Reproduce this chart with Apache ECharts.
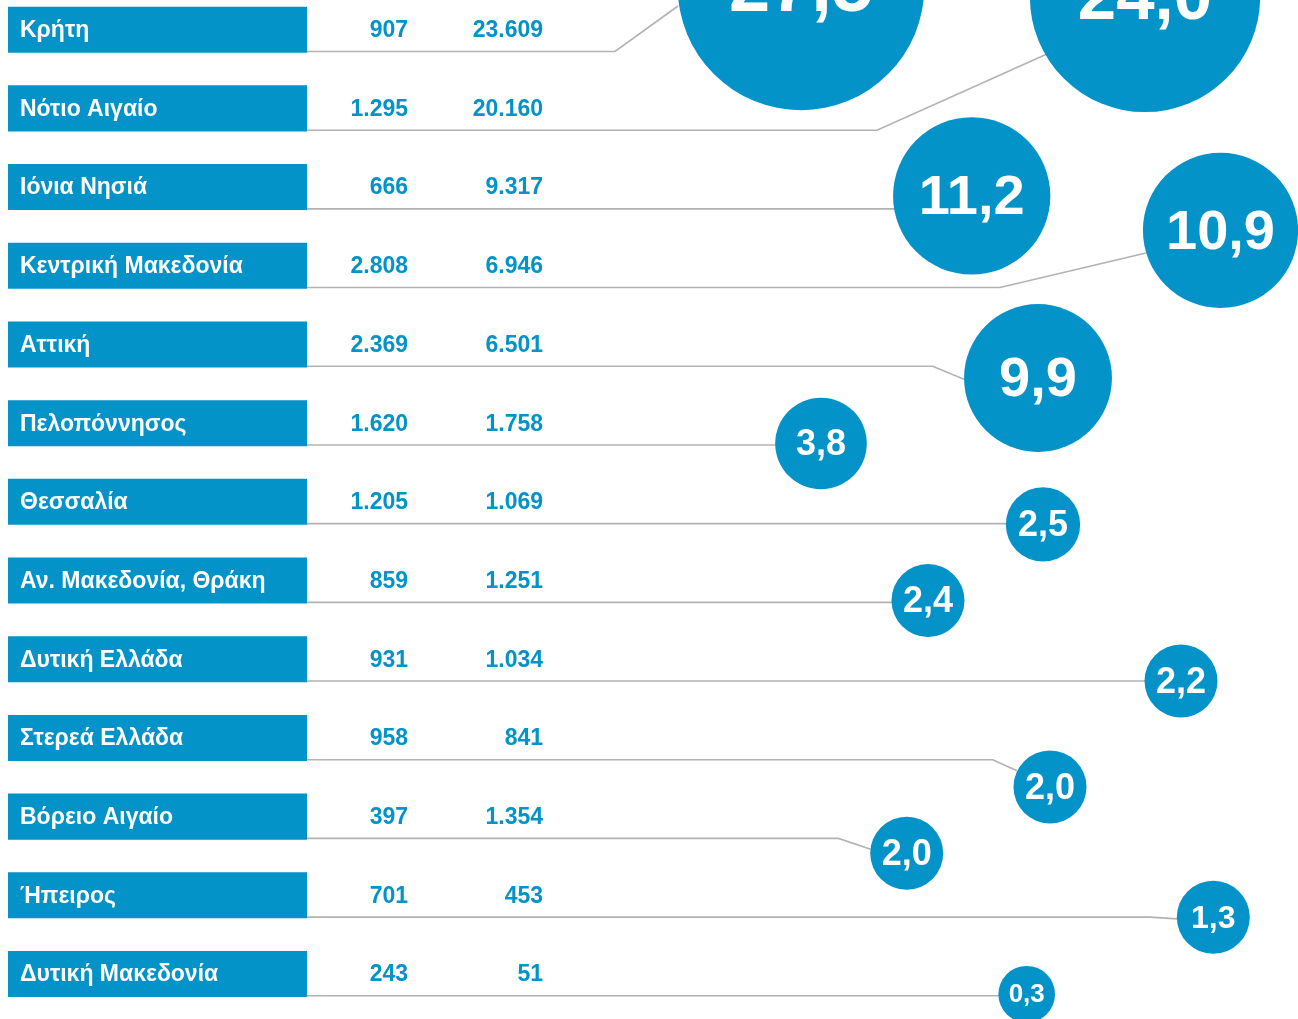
<!DOCTYPE html>
<html>
<head>
<meta charset="utf-8">
<script src="https://cdn.jsdelivr.net/npm/echarts@6/dist/echarts.min.js"></script>
<style>
html,body{margin:0;padding:0;background:#fff;}
#chart{width:1298px;height:1019px;}
</style>
</head>
<body>
<div id="chart"></div>
<script>
// ---- data ----
const regions = ['Κρήτη','Νότιο Αιγαίο','Ιόνια Νησιά','Κεντρική Μακεδονία','Αττική','Πελοπόννησος','Θεσσαλία','Αν. Μακεδονία, Θράκη','Δυτική Ελλάδα','Στερεά Ελλάδα','Βόρειο Αιγαίο','Ήπειρος','Δυτική Μακεδονία'];
const col1 = [907, 1295, 666, 2808, 2369, 1620, 1205, 859, 931, 958, 397, 701, 243];
const col2 = [23609, 20160, 9317, 6946, 6501, 1758, 1069, 1251, 1034, 841, 1354, 453, 51];
const shares = [27.5, 24.0, 11.2, 10.9, 9.9, 3.8, 2.5, 2.4, 2.2, 2.0, 2.0, 1.3, 0.3];

// ---- layout (placement of the bubbles, not data) ----
const bubbleX  = [801, 1145, 971.7, 1220.5, 1038, 821, 1043, 928, 1181, 1050, 906.7, 1213.3, 1026.7];
const bubbleDy = [-0.543, -1.416, 0.113, -0.449, 0.426, 0.258, 0.287, 0.253, 0.276, 0.623, 0.465, 0.278, 0.257];
const elbowX   = [615, 877, null, 1000, 932.7, null, null, null, null, 992.7, 838.3, 1150, null];
const endX     = [678, 1047, null, 1146, 964, null, null, null, null, 1017, 870.7, 1177, null];
const endDy    = [-0.301, -0.691, null, -0.163, 0.442, null, null, null, null, 0.416, 0.414, 0.30, null];

const BLUE = '#0393C9';
const LINE = '#b2b2b2';
const FONT = '"Liberation Sans", Arial, Helvetica, sans-serif';
const BOX_L = 8, BOX_R = 307, BOX_H = 0.585, LINE_DY = 0.277;
const NUM1_X = 408, NUM2_X = 543, LABEL_X = 20;

function fmtInt(n){ return String(n).replace(/\B(?=(\d{3})+(?!\d))/g, '.'); }
function fmtDec(v){ return v.toFixed(1).replace('.', ','); }
function radiusFor(v){ return Math.max(23.5 * Math.sqrt(v), v >= 1 ? 36.5 : 28.3); }
function fontFor(v){
  const r = radiusFor(v);
  if (v >= 20) return Math.round(0.6 * r);
  if (v >= 9) return 56;
  if (v >= 2) return 36;
  if (v >= 1) return 32;
  return 26;
}

const chart = echarts.init(document.getElementById('chart'), null, {renderer:'canvas'});

const rowData = regions.map((r, i) => [0, i]);

const option = {
  animation: false,
  backgroundColor: '#ffffff',
  grid: {left: 0, right: 0, top: 29.7, bottom: 45},
  xAxis: {type: 'value', min: 0, max: 1298, show: false},
  yAxis: {type: 'value', min: 0, max: 12, inverse: true, show: false},
  series: [
    {
      type: 'custom',
      name: 'connectors',
      z: 1,
      clip: false,
      data: rowData,
      renderItem: function(params, api){
        const i = api.value(1);
        const y0 = i + LINE_DY;
        const pts = [api.coord([BOX_R, y0])];
        if (elbowX[i] == null) {
          pts.push(api.coord([bubbleX[i], y0]));
        } else {
          pts.push(api.coord([elbowX[i], y0]));
          pts.push(api.coord([endX[i], i + endDy[i]]));
        }
        return {type: 'polyline', shape: {points: pts}, style: {stroke: LINE, lineWidth: 1.6, fill: null}};
      }
    },
    {
      type: 'custom',
      name: 'rows',
      z: 2,
      clip: false,
      data: rowData,
      renderItem: function(params, api){
        const i = api.value(1);
        const l = api.coord([BOX_L, i]);
        const r = api.coord([BOX_R, i]);
        const h = api.size([0, BOX_H])[1];
        const tx = api.coord([LABEL_X, i])[0];
        const n1 = api.coord([NUM1_X, i])[0];
        const n2 = api.coord([NUM2_X, i])[0];
        return {type: 'group', children: [
          {type: 'rect', shape: {x: l[0], y: l[1] - h/2, width: r[0] - l[0], height: h}, style: {fill: BLUE}},
          {type: 'text', style: {text: regions[i], x: tx, y: l[1] + 1, align: 'left', verticalAlign: 'middle', fill: '#ffffff', font: 'bold 23px ' + FONT}},
          {type: 'text', style: {text: fmtInt(col1[i]), x: n1, y: l[1] + 1, align: 'right', verticalAlign: 'middle', fill: BLUE, font: 'bold 23px ' + FONT}},
          {type: 'text', style: {text: fmtInt(col2[i]), x: n2, y: l[1] + 1, align: 'right', verticalAlign: 'middle', fill: BLUE, font: 'bold 23px ' + FONT}}
        ]};
      }
    },
    {
      type: 'scatter',
      name: 'share',
      z: 3,
      clip: false,
      silent: true,
      itemStyle: {color: BLUE, opacity: 1},
      symbol: 'circle',
      symbolSize: function(val){ return 2 * radiusFor(val[2]); },
      label: {
        show: true, position: 'inside', color: '#ffffff', fontWeight: 'bold', fontFamily: FONT,
        formatter: function(p){ return fmtDec(p.value[2]); }
      },
      emphasis: {disabled: true},
      data: shares.map((v, i) => {
        const fs = fontFor(v);
        return {value: [bubbleX[i], i + bubbleDy[i], v], label: {fontSize: fs, offset: [0, Math.round(fs * 0.05)]}};
      })
    }
  ]
};
chart.setOption(option);
</script>
</body>
</html>
